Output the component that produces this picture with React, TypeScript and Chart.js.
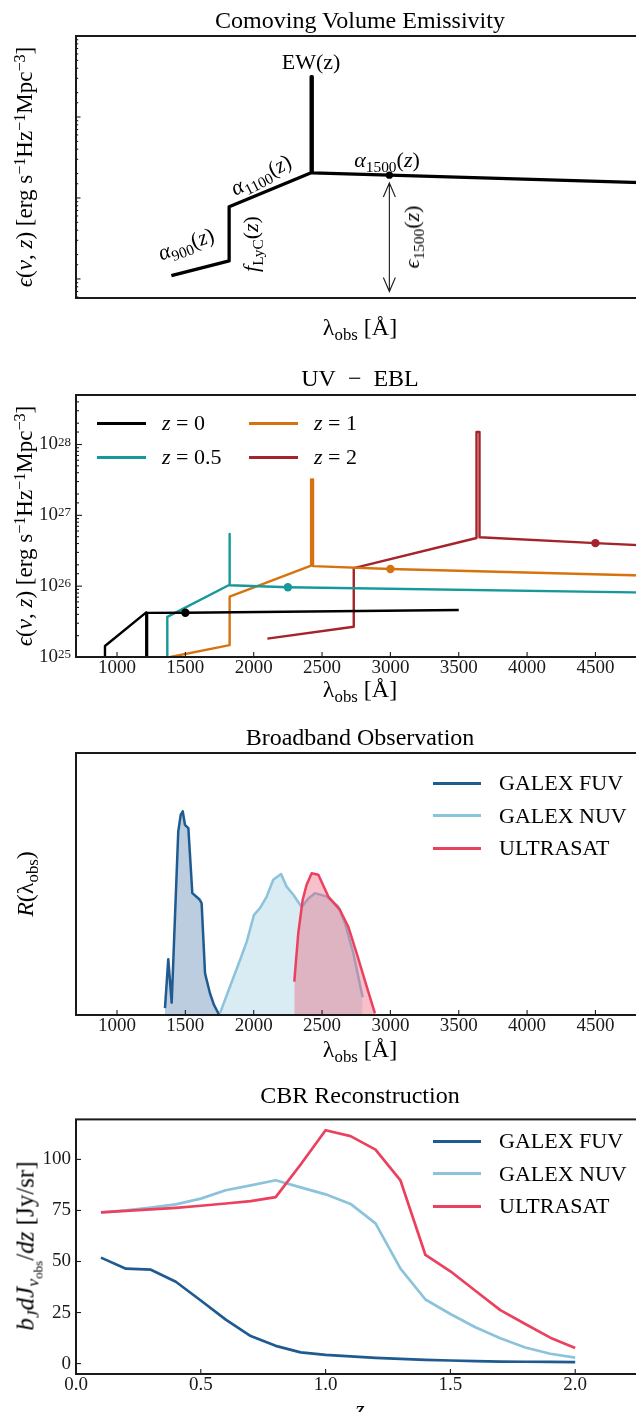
import React, { useEffect, useRef } from 'react';
import { Chart, registerables } from 'chart.js';

Chart.register(...registerables);

const SERIF = "'Liberation Serif', 'DejaVu Serif', serif";
const INK = '#1a1a1a';

// ---------- Panel 1 : schematic comoving emissivity ----------
const p1Lambda = [700, 912, 912, 1213, 1213, 1217, 1217, 1500, 2640];
const p1Eps = [1.1, 1.67, 7.81, 20.5, 315, 315, 20.4, 19.1, 14.7];
const p1DotLambda = [1500];
const p1DotEps = [19.1];
const p1ArrowLambda = 1500;
const p1ArrowEps = [15.3, 0.7];
const p1XRange = [350, 2640];
const p1YRange = [0.582, 1000];

// ---------- Panel 2 : UV - EBL ----------
const z0Lambda = [912, 912, 1214, 1214, 1220, 1220, 1500, 3500];
const z0Eps = [5e24, 1.43e25, 4.26e25, 5e24, 5e24, 4.2e25, 4.22e25, 4.6e25];
const z05Lambda = [1368, 1368, 1820, 1820, 1826, 1826, 2250, 5265];
const z05Eps = [5e24, 3.69e25, 1.04e26, 5.45e26, 5.45e26, 1.03e26, 9.64e25, 7.9e25];
const z1Lambda = [1390, 1824, 1824, 2420, 2420, 2434, 2434, 3000, 5265];
const z1Eps = [1.0e25, 1.47e25, 7.1e25, 1.95e26, 3.2e27, 3.2e27, 1.92e26, 1.75e26, 1.35e26];
const z2Lambda = [2100, 2732, 2732, 3630, 3630, 3652, 3652, 4500, 5265];
const z2Eps = [1.82e25, 2.67e25, 1.8e26, 4.79e26, 1.5e28, 1.5e28, 4.9e26, 4.05e26, 3.45e26];
const dotLambda = [1500, 2250, 3000, 4500];
const dotEps = [4.22e25, 9.64e25, 1.75e26, 4.05e26];
const p2Colors = ['#000000', '#15999b', '#d7730f', '#a5232a'];
const p2XRange = [700, 5265];
const p2YRange = [1e25, 5e28];
const lambdaTicks = [1000, 1500, 2000, 2500, 3000, 3500, 4000, 4500, 5000];

// ---------- Panel 3 : broadband responses ----------
const fuvLambda = [1351, 1375, 1400, 1448, 1466, 1481, 1497, 1522, 1551, 1602, 1619, 1644, 1680, 1710, 1748];
const fuvR = [0.026, 0.213, 0.047, 0.7, 0.764, 0.777, 0.726, 0.713, 0.465, 0.442, 0.427, 0.159, 0.083, 0.038, 0];
const nuvLambda = [1753, 1826, 1900, 1949, 2002, 2046, 2095, 2143, 2200, 2241, 2290, 2351, 2400, 2448, 2534, 2619, 2668, 2729, 2797];
const nuvR = [0.006, 0.108, 0.21, 0.28, 0.382, 0.408, 0.452, 0.516, 0.538, 0.49, 0.459, 0.412, 0.445, 0.465, 0.452, 0.414, 0.35, 0.236, 0.068];
const usLambda = [2297, 2326, 2358, 2387, 2424, 2473, 2546, 2631, 2692, 2753, 2827, 2887];
const usR = [0.127, 0.312, 0.439, 0.497, 0.541, 0.535, 0.452, 0.401, 0.337, 0.236, 0.108, 0.006];
const bandLabels = ['GALEX FUV', 'GALEX NUV', 'ULTRASAT'];
const bandColors = ['#1f5a91', '#8cc3dc', '#eb415f'];
const bandFills = ['rgba(31,90,145,0.3)', 'rgba(140,195,220,0.33)', 'rgba(235,65,95,0.33)'];
const p3YRange = [0, 1];

// ---------- Panel 4 : CBR reconstruction ----------
const zGrid = [0.1, 0.2, 0.3, 0.4, 0.5, 0.6, 0.7, 0.8, 0.9, 1.0, 1.1, 1.2, 1.3, 1.4, 1.5, 1.6, 1.7, 1.8, 1.9, 2.0];
const fuvCBR = [51.9, 46.5, 46.0, 40.1, 30.9, 21.5, 13.5, 8.7, 5.5, 4.3, 3.5, 2.8, 2.3, 1.8, 1.5, 1.2, 1.0, 0.9, 0.8, 0.7];
const nuvCBR = [74.0, 75.0, 76.4, 78.0, 80.8, 84.9, 87.3, 89.8, 86.3, 82.9, 78.2, 68.7, 46.5, 31.4, 24.3, 17.8, 12.4, 7.9, 4.8, 2.9];
const usCBR = [74.1, 74.8, 75.5, 76.3, 77.3, 78.4, 79.6, 81.5, 97.5, 114.3, 111.4, 104.8, 89.7, 53.2, 45.2, 35.7, 26.2, 19.4, 12.7, 7.6];
const p4XRange = [0, 2.5];
const p4YRange = [-5.1, 119.6];
const p4XTicks = [0, 0.5, 1.0, 1.5, 2.0, 2.5];
const p4YTicks = [0, 25, 50, 75, 100];

// ---------- helpers ----------
const pts = (xs: number[], ys: number[]) => xs.map((x, i) => ({ x, y: ys[i] }));
const fixedTicks = (arr: number[]) => (s: any) => {
  s.ticks = arr.map((v) => ({ value: v }));
};

const decoPlugin = {
  id: 'deco',
  afterDraw(chart: any, _args: any, o: any) {
    if (!o || !o.enabled) return;
    const { ctx, chartArea: a } = chart;
    const xs = chart.scales.x;
    const ys = chart.scales.y;
    const isMajorLog = (v: number) => v > 0 && Math.abs(Math.log10(v) - Math.round(Math.log10(v))) < 1e-9;
    ctx.save();
    ctx.strokeStyle = INK;
    ctx.fillStyle = INK;
    ctx.lineWidth = 1.1;
    if (o.xMajor > 0) {
      for (const t of xs.ticks) {
        const p = xs.getPixelForValue(t.value);
        if (p <= a.left + 1 || p >= a.right - 1) continue;
        ctx.beginPath();
        ctx.moveTo(p, a.bottom);
        ctx.lineTo(p, a.bottom - o.xMajor);
        ctx.stroke();
      }
    }
    if (o.yMajor > 0) {
      for (const t of ys.ticks) {
        const p = ys.getPixelForValue(t.value);
        if (p <= a.top + 1 || p >= a.bottom - 1) continue;
        const len = o.log ? (isMajorLog(t.value) ? o.yMajor : o.yMinor) : o.yMajor;
        ctx.beginPath();
        ctx.moveTo(a.left, p);
        ctx.lineTo(a.left + len, p);
        ctx.stroke();
      }
    }
    if (o.logLabels) {
      for (const t of ys.ticks) {
        if (!isMajorLog(t.value)) continue;
        const p = ys.getPixelForValue(t.value);
        if (p < a.top - 1 || p > a.bottom + 1) continue;
        const e = String(Math.round(Math.log10(t.value)));
        ctx.font = `19px ${SERIF}`;
        const w1 = ctx.measureText('10').width;
        ctx.font = `13px ${SERIF}`;
        const w2 = ctx.measureText(e).width;
        const right = a.left - 5;
        ctx.textAlign = 'left';
        ctx.textBaseline = 'middle';
        ctx.font = `19px ${SERIF}`;
        ctx.fillText('10', right - w1 - w2, p);
        ctx.font = `13px ${SERIF}`;
        ctx.textBaseline = 'alphabetic';
        ctx.fillText(e, right - w2, p + 1);
      }
    }
    if (o.arrow) {
      const x = xs.getPixelForValue(o.arrow.x);
      const y1 = ys.getPixelForValue(o.arrow.y1);
      const y2 = ys.getPixelForValue(o.arrow.y2);
      ctx.lineWidth = 1.1;
      ctx.beginPath();
      ctx.moveTo(x, y1);
      ctx.lineTo(x, y2);
      ctx.moveTo(x - 6, y1 + 14);
      ctx.lineTo(x, y1);
      ctx.lineTo(x + 6, y1 + 14);
      ctx.moveTo(x - 6, y2 - 14);
      ctx.lineTo(x, y2);
      ctx.lineTo(x + 6, y2 - 14);
      ctx.stroke();
    }
    ctx.lineWidth = 2;
    ctx.strokeRect(a.left, a.top, a.right - a.left, a.bottom - a.top);
    ctx.restore();
  },
};
Chart.register(decoPlugin as any);

const tickFont = { family: SERIF, size: 19 };

function makeOptions(x: any, y: any, deco: any) {
  return {
    responsive: false,
    maintainAspectRatio: false,
    animation: false,
    devicePixelRatio: 1,
    events: [],
    layout: { padding: { left: 0, right: 20, top: 10, bottom: 0 }, autoPadding: false },
    plugins: {
      legend: { display: false },
      tooltip: { enabled: false },
      title: { display: false },
      deco: { enabled: true, ...deco },
    },
    scales: {
      x: {
        type: 'linear',
        position: 'bottom',
        grid: { display: false, drawTicks: false },
        border: { display: false },
        ...x,
        ticks: { font: tickFont, color: INK, padding: 0, autoSkip: false, maxRotation: 0, ...(x.ticks || {}) },
        afterFit: (s: any) => { s.height = 40; },
      },
      y: {
        position: 'left',
        grid: { display: false, drawTicks: false },
        border: { display: false },
        ...y,
        ticks: { font: tickFont, color: INK, padding: 5, autoSkip: false, ...(y.ticks || {}) },
        afterFit: (s: any) => { s.width = 76; },
      },
    },
  };
}

const line = (xs: number[], ys: number[], color: string, width: number, extra: any = {}) => ({
  type: 'line',
  data: pts(xs, ys),
  borderColor: color,
  borderWidth: width,
  pointRadius: 0,
  fill: false,
  tension: 0,
  borderJoinStyle: 'round',
  ...extra,
});

const dots = (xs: number[], ys: number[], colors: string[], r: number) => ({
  type: 'scatter',
  data: pts(xs, ys),
  pointRadius: r,
  pointBackgroundColor: colors,
  pointBorderWidth: 0,
  showLine: false,
});

function config1() {
  return {
    type: 'line',
    data: {
      datasets: [
        dots(p1DotLambda, p1DotEps, ['#000'], 3.6),
        line(p1Lambda, p1Eps, '#000', 3.3),
      ],
    },
    options: makeOptions(
      { min: p1XRange[0], max: p1XRange[1], ticks: { display: false } },
      { type: 'logarithmic', min: p1YRange[0], max: p1YRange[1], ticks: { display: false } },
      { xMajor: 0, yMajor: 4.5, yMinor: 2.2, log: true, arrow: { x: p1ArrowLambda, y1: p1ArrowEps[0], y2: p1ArrowEps[1] } }
    ),
  };
}

function config2() {
  return {
    type: 'line',
    data: {
      datasets: [
        dots(dotLambda, dotEps, p2Colors, 4.2),
        line(z0Lambda, z0Eps, p2Colors[0], 2.4),
        line(z05Lambda, z05Eps, p2Colors[1], 2.4),
        line(z1Lambda, z1Eps, p2Colors[2], 2.4),
        line(z2Lambda, z2Eps, p2Colors[3], 2.4),
      ],
    },
    options: makeOptions(
      { min: p2XRange[0], max: p2XRange[1], afterBuildTicks: fixedTicks(lambdaTicks), ticks: { callback: (v: any) => String(v) } },
      { type: 'logarithmic', min: p2YRange[0], max: p2YRange[1], ticks: { display: false } },
      { xMajor: 5, yMajor: 6, yMinor: 3, log: true, logLabels: true }
    ),
  };
}

function config3() {
  return {
    type: 'line',
    data: {
      datasets: [
        line(usLambda, usR, bandColors[2], 2.5, { fill: 'origin', backgroundColor: bandFills[2], order: 0 }),
        line(nuvLambda, nuvR, bandColors[1], 2.5, { fill: 'origin', backgroundColor: bandFills[1], order: 1 }),
        line(fuvLambda, fuvR, bandColors[0], 2.5, { fill: 'origin', backgroundColor: bandFills[0], order: 2 }),
      ],
    },
    options: makeOptions(
      { min: p2XRange[0], max: p2XRange[1], afterBuildTicks: fixedTicks(lambdaTicks), ticks: { callback: (v: any) => String(v) } },
      { type: 'linear', min: p3YRange[0], max: p3YRange[1], ticks: { display: false } },
      { xMajor: 5, yMajor: 0 }
    ),
  };
}

function config4() {
  return {
    type: 'line',
    data: {
      datasets: [
        line(zGrid, usCBR, bandColors[2], 2.7),
        line(zGrid, nuvCBR, bandColors[1], 2.7),
        line(zGrid, fuvCBR, bandColors[0], 2.7),
      ],
    },
    options: makeOptions(
      { min: p4XRange[0], max: p4XRange[1], afterBuildTicks: fixedTicks(p4XTicks), ticks: { callback: (v: any) => Number(v).toFixed(1) } },
      { type: 'linear', min: p4YRange[0], max: p4YRange[1], afterBuildTicks: fixedTicks(p4YTicks), ticks: { callback: (v: any) => String(Math.round(Number(v))) } },
      { xMajor: 5, yMajor: 5 }
    ),
  };
}

function Panel({ areaTop, areaH, make }: { areaTop: number; areaH: number; make: () => any }) {
  const ref = useRef<HTMLCanvasElement>(null);
  useEffect(() => {
    const chart = new Chart(ref.current as HTMLCanvasElement, make());
    return () => chart.destroy();
  }, []);
  const h = areaH + 50;
  return (
    <canvas
      ref={ref}
      width={720}
      height={h}
      style={{ position: 'absolute', left: 0, top: areaTop - 10, width: 720, height: h }}
    />
  );
}

const Sub = ({ children }: any) => (
  <span style={{ fontSize: '0.7em', position: 'relative', top: '0.3em', lineHeight: 0 }}>{children}</span>
);
const Sup = ({ children }: any) => (
  <span style={{ fontSize: '0.7em', position: 'relative', top: '-0.45em', lineHeight: 0 }}>{children}</span>
);

function T({ x, y, size = 24, rot = 0, left = false, children }: any) {
  return (
    <div
      style={{
        position: 'absolute',
        left: x,
        top: y,
        fontSize: size,
        lineHeight: 1,
        whiteSpace: 'nowrap',
        color: '#000',
        transform: left ? 'translate(0,-50%)' : `translate(-50%,-50%) rotate(${rot}deg)`,
      }}
    >
      {children}
    </div>
  );
}

function LegendRow({ x1, x2, tx, y, color, size = 22, children }: any) {
  return (
    <>
      <div style={{ position: 'absolute', left: x1, top: y - 1.5, width: x2 - x1, height: 3, background: color }} />
      <T x={tx} y={y} size={size} left>
        {children}
      </T>
    </>
  );
}

const EpsLabel = () => (
  <span>
    <i>ϵ</i>(<i>ν</i>, <i>z</i>) [erg s<Sup>−1</Sup>Hz<Sup>−1</Sup>Mpc<Sup>−3</Sup>]
  </span>
);
const LamLabel = () => (
  <span>
    λ<Sub>obs</Sub> [Å]
  </span>
);
const ZEq = ({ v }: any) => (
  <span>
    <i>z</i> = {v}
  </span>
);

export default function App() {
  return (
    <div
      style={{
        position: 'relative',
        width: 644,
        height: 1420,
        margin: -8,
        overflow: 'hidden',
        background: '#fff',
        fontFamily: SERIF,
      }}
    >
      <Panel areaTop={36} areaH={262} make={config1} />
      <Panel areaTop={395} areaH={262} make={config2} />
      <Panel areaTop={753} areaH={262} make={config3} />
      <Panel areaTop={1113} areaH={261} make={config4} />

      {/* titles */}
      <T x={360} y={20}>Comoving Volume Emissivity</T>
      <T x={360} y={378}>UV{'\u2002'}−{'\u2002'}EBL</T>
      <T x={360} y={737}>Broadband Observation</T>
      <T x={360} y={1095}>CBR Reconstruction</T>

      {/* axis labels */}
      <T x={24} y={167} size={23} rot={-90}><EpsLabel /></T>
      <T x={360} y={327}><LamLabel /></T>
      <T x={24} y={526} size={23} rot={-90}><EpsLabel /></T>
      <T x={360} y={689}><LamLabel /></T>
      <T x={25} y={884} rot={-90}><span><i>R</i>(λ<Sub>obs</Sub>)</span></T>
      <T x={360} y={1049}><LamLabel /></T>
      <T x={25} y={1246} size={25} rot={-90}>
        <span>
          <i>b</i><Sub><i>J</i></Sub><i>dJ</i><Sub><i>ν</i><span style={{ fontSize: '0.75em', position: 'relative', top: '0.25em' }}>obs</span></Sub>/<i>dz</i> [Jy/sr]
        </span>
      </T>
      <T x={360} y={1409}><i>z</i></T>

      {/* panel 1 annotations */}
      <T x={311} y={62} size={22}>EW(z)</T>
      <T x={387} y={160} size={22}><span><i>α</i><Sub>1500</Sub>(<i>z</i>)</span></T>
      <T x={261} y={175} size={22} rot={-27}><span><i>α</i><Sub>1100</Sub>(<i>z</i>)</span></T>
      <T x={186} y={244} size={22} rot={-20}><span><i>α</i><Sub>900</Sub>(<i>z</i>)</span></T>
      <T x={251} y={244} size={22} rot={-90}><span><i>f</i><Sub>LyC</Sub>(<i>z</i>)</span></T>
      <T x={412} y={237} size={22} rot={-90}><span><i>ϵ</i><Sub>1500</Sub>(<i>z</i>)</span></T>

      {/* panel 2 legend */}
      <LegendRow x1={97} x2={146} tx={162} y={423} color={p2Colors[0]}><ZEq v="0" /></LegendRow>
      <LegendRow x1={97} x2={146} tx={162} y={457} color={p2Colors[1]}><ZEq v="0.5" /></LegendRow>
      <LegendRow x1={249} x2={298} tx={314} y={423} color={p2Colors[2]}><ZEq v="1" /></LegendRow>
      <LegendRow x1={249} x2={298} tx={314} y={457} color={p2Colors[3]}><ZEq v="2" /></LegendRow>

      {/* panel 3 legend */}
      {bandLabels.map((l, i) => (
        <LegendRow key={'b3' + i} x1={433} x2={481} tx={499} y={783 + i * 32.5} color={bandColors[i]}>{l}</LegendRow>
      ))}
      {/* panel 4 legend */}
      {bandLabels.map((l, i) => (
        <LegendRow key={'b4' + i} x1={433} x2={481} tx={499} y={1141 + i * 32.5} color={bandColors[i]}>{l}</LegendRow>
      ))}
    </div>
  );
}
